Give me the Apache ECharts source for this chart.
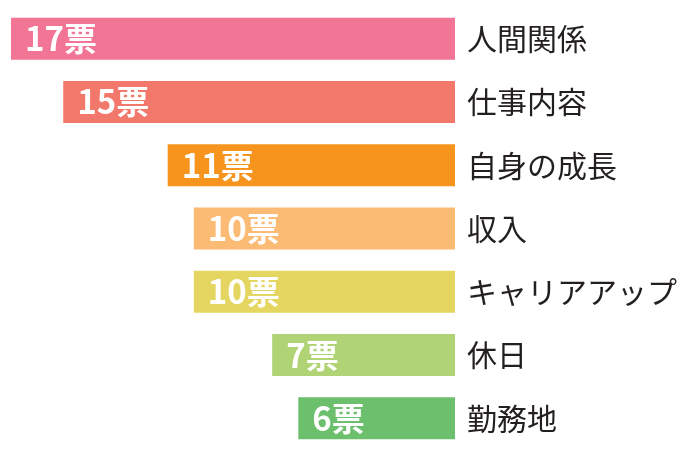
<!DOCTYPE html>
<html>
<head>
<meta charset="utf-8">
<script src="https://cdn.jsdelivr.net/npm/echarts@6/dist/echarts.min.js"></script>
<style>
  html, body { margin: 0; padding: 0; background: #fff; }
  #chart { width: 689px; height: 456px; }
</style>
</head>
<body>
<div id="chart"></div>
<script>
'use strict';
// data
var categories = ['人間関係', '仕事内容', '自身の成長', '収入', 'キャリアアップ', '休日', '勤務地'];
var votes = [17, 15, 11, 10, 10, 7, 6];
var barColors = ['#F27595', '#F2786C', '#F7941E', '#FCBB74', '#E5D661', '#B0D475', '#6CBF6D'];

var chart = echarts.init(document.getElementById('chart'));

var seriesData = votes.map(function(v, i) {
  return { value: v, itemStyle: { color: barColors[i] } };
});

var option = {
  animation: false,
  grid: { left: 11, right: 234, top: 7, bottom: 6 },
  xAxis: {
    type: 'value',
    inverse: true,
    min: 0,
    max: 17,
    show: false
  },
  yAxis: {
    type: 'category',
    data: categories,
    inverse: true,
    position: 'right',
    axisLine: { show: false },
    axisTick: { show: false },
    axisLabel: {
      margin: 12,
      fontSize: 30,
      color: '#231f20',
      fontFamily: '"Noto Sans CJK JP", sans-serif'
    }
  },
  series: [{
    type: 'bar',
    data: seriesData,
    barWidth: 42,
    label: {
      show: true,
      position: 'insideLeft',
      distance: 14,
      color: '#fff',
      fontSize: 33,
      fontWeight: 'bold',
      fontFamily: '"Noto Sans CJK JP", sans-serif',
      formatter: function(p) { return p.value + '票'; }
    }
  }]
};

chart.setOption(option);
</script>
</body>
</html>
